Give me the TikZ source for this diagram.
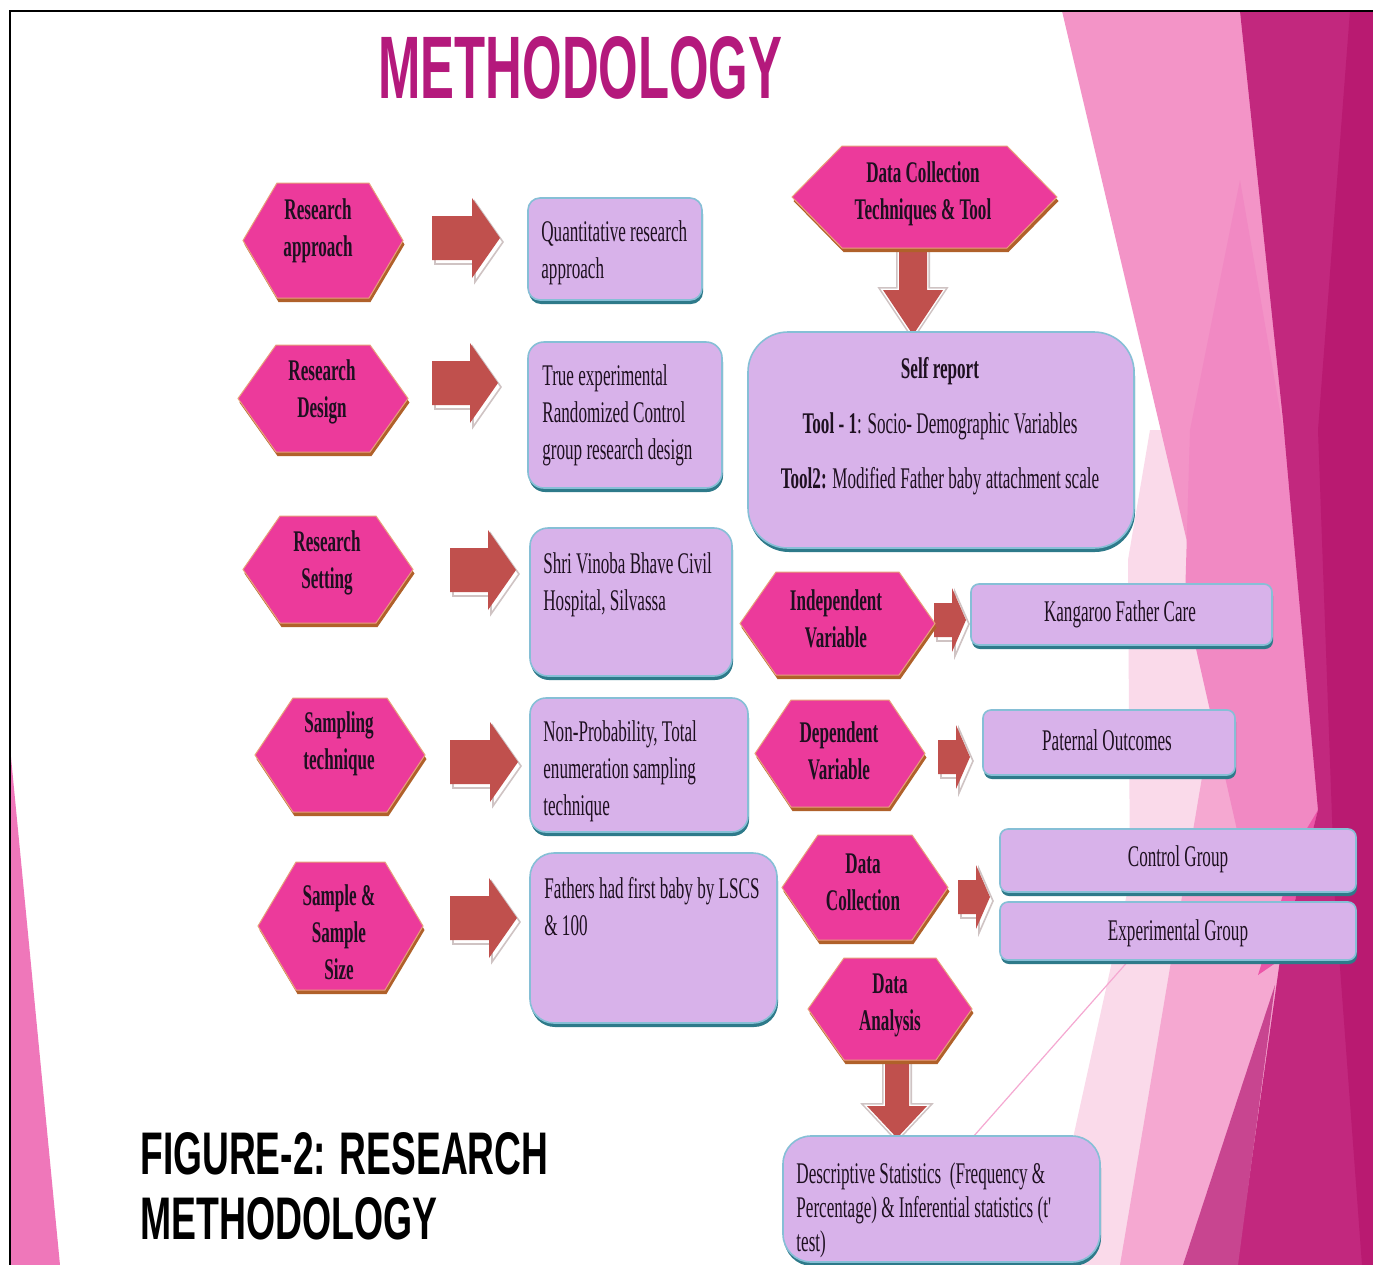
\documentclass[tikz,border=0pt]{standalone}
\usepackage{fontspec}
\usepackage{graphicx}
\usetikzlibrary{fit}
\newfontfamily\figfont{Liberation Serif}[FakeStretch=0.57]
\newfontfamily\headfont{Liberation Sans}
\definecolor{hexpink}{HTML}{EC3A9B}
\definecolor{hexedge}{HTML}{B0612A}
\definecolor{hexline}{HTML}{E8A07A}
\definecolor{boxfill}{HTML}{D8B2EA}
\definecolor{boxsh}{HTML}{2E7A8A}
\definecolor{boxline}{HTML}{86BFD6}
\definecolor{arrred}{HTML}{C0504D}
\definecolor{arrline}{HTML}{CFC3C3}
\definecolor{titlemag}{HTML}{B4197C}
\definecolor{txt}{HTML}{1E1020}
\definecolor{bgVL}{HTML}{FADAEA}
\definecolor{bgLP}{HTML}{F394C7}
\definecolor{bgMP}{HTML}{F189C3}
\definecolor{bgLB}{HTML}{F5A8D1}
\definecolor{bgHP}{HTML}{EC55A8}
\definecolor{bgDK}{HTML}{C2287E}
\definecolor{bgMD}{HTML}{C84590}
\definecolor{bgXD}{HTML}{B91A71}
\definecolor{bgLeft}{HTML}{EF77BA}
\tikzset{
  hextext/.style={align=center, inner sep=0pt, font=\figfont\bfseries\fontsize{15}{18.5}\selectfont, text=txt},
  boxtext/.style={align=left, inner sep=0pt, font=\figfont\fontsize{15}{18.5}\selectfont, text=txt},
  ctext/.style={align=center, inner sep=0pt, font=\figfont\fontsize{15}{18.5}\selectfont, text=txt},
  boxshade/.style={inner sep=0pt, fill=boxsh},
  boxmain/.style={inner sep=0pt, fill=boxfill, draw=boxline, line width=0.8pt},
}
% hexagon: name, xl, xr, yt, yb, slant, tx, ty, text
\newcommand{\hexa}[9]{%
  \fill[hexedge] ({#2+1.5},{(#4+#5)/2+4}) -- ({#2+#6+1.5},{#4+4}) -- ({#3-#6+1.5},{#4+4}) -- ({#3+1.5},{(#4+#5)/2+4}) -- ({#3-#6+1.5},{#5+4}) -- ({#2+#6+1.5},{#5+4}) -- cycle;
  \filldraw[fill=hexpink, draw=hexline, line width=0.5pt] (#2,{(#4+#5)/2}) -- ({#2+#6},#4) -- ({#3-#6},#4) -- (#3,{(#4+#5)/2}) -- ({#3-#6},#5) -- ({#2+#6},#5) -- cycle;
  \node[hextext] (#1) at (#7,#8) {#9};}
% box: name, xl, yt, xr, yb, radius
\newcommand{\pbox}[6]{%
  \node[boxshade, fit={(#2,#3)(#4,#5)}, rounded corners=#6, xshift=0.5pt, yshift=-2pt] (#1-s) {};
  \node[boxmain, fit={(#2,#3)(#4,#5)}, rounded corners=#6] (#1) {};}
% right arrow: x0, x1, yc, shaft half, head half, head length
\newcommand{\rarr}[6]{%
  \filldraw[fill=white, draw=arrline, line width=0.8pt, shift={(3,4)}] (#1,{#3-#4}) -- ({#2-#6},{#3-#4}) -- ({#2-#6},{#3-#5}) -- (#2,#3) -- ({#2-#6},{#3+#5}) -- ({#2-#6},{#3+#4}) -- (#1,{#3+#4}) -- cycle;
  \fill[arrred] (#1,{#3-#4}) -- ({#2-#6},{#3-#4}) -- ({#2-#6},{#3-#5}) -- (#2,#3) -- ({#2-#6},{#3+#5}) -- ({#2-#6},{#3+#4}) -- (#1,{#3+#4}) -- cycle;}
% down arrow: xc, y0, y1, shaft half, head half, head length
\newcommand{\darr}[6]{%
  \draw[draw=arrline, line width=3pt, line join=miter] ({#1-#4},#2) -- ({#1+#4},#2) -- ({#1+#4},{#3-#6}) -- ({#1+#5},{#3-#6}) -- (#1,#3) -- ({#1-#5},{#3-#6}) -- ({#1-#4},{#3-#6}) -- cycle;
  \draw[draw=white, line width=1.4pt, line join=miter] ({#1-#4},#2) -- ({#1+#4},#2) -- ({#1+#4},{#3-#6}) -- ({#1+#5},{#3-#6}) -- (#1,#3) -- ({#1-#5},{#3-#6}) -- ({#1-#4},{#3-#6}) -- cycle;
  \fill[arrred] ({#1-#4},#2) -- ({#1+#4},#2) -- ({#1+#4},{#3-#6}) -- ({#1+#5},{#3-#6}) -- (#1,#3) -- ({#1-#5},{#3-#6}) -- ({#1-#4},{#3-#6}) -- cycle;}
\begin{document}
\begin{tikzpicture}[x=0.5pt, y=-0.5pt]
\useasboundingbox (0,0) rectangle (1373,1265);
\fill[white] (0,0) rectangle (1373,1265);
% ---- background decoration ----
\fill[bgVL] (1150,430) -- (1373,430) -- (1373,1265) -- (1045,1265) -- (1130,880) -- (1128,560) -- cycle;
\fill[bgLP] (1062,11) -- (1373,11) -- (1373,900) -- (1262,860) -- cycle;
\fill[bgLB] (1120,1265) -- (1373,1265) -- (1373,850) -- (1300,850) -- (1215,700) -- cycle;
\fill[bgMP] (1240,180) -- (1285,440) -- (1320,830) -- (1237,830) -- (1185,600) -- (1190,430) -- cycle;
\fill[bgHP] (1318,810) -- (1280,960) -- (1258,975) -- (1300,840) -- cycle;
\fill[bgDK] (1240,11) -- (1373,11) -- (1373,1265) -- (1237,1265) -- (1280,960) -- (1318,810) -- (1283,420) -- cycle;
\fill[bgMD] (1183,1265) -- (1238,1265) -- (1275,985) -- cycle;
\fill[bgXD] (1350,11) -- (1373,11) -- (1373,1265) -- (1362,1265) -- (1335,900) -- (1318,430) -- cycle;
\draw[color=bgLB, line width=0.6pt] (973,1137) -- (1160,925);
\fill[bgLeft] (10,747) -- (60,1265) -- (10,1265) -- cycle;
% border
\draw[black, line width=1pt] (1373,11) -- (10,11) -- (10,1265);
% ---- titles ----
\node[anchor=south west, inner sep=0pt, text=titlemag] (title) at (378,100) {\resizebox{202pt}{31pt}{\headfont\bfseries METHODOLOGY}};
\node[anchor=south west, inner sep=0pt, text=black] (cap1) at (140,1175) {\resizebox{204pt}{21pt}{\headfont\bfseries FIGURE-2: RESEARCH}};
\node[anchor=south west, inner sep=0pt, text=black] (cap2) at (140,1240) {\resizebox{148.5pt}{21pt}{\headfont\bfseries METHODOLOGY}};
% ---- arrows ----
\rarr{432}{500}{238}{22}{40}{28}
\rarr{432}{498}{383}{22}{40}{28}
\rarr{450}{516}{570}{22}{40}{28}
\rarr{450}{518}{762}{22}{40}{28}
\rarr{450}{517}{918}{22}{40}{28}
\rarr{934}{966}{620}{17}{32}{14}
\rarr{938}{970}{757}{17}{32}{14}
\rarr{958}{990}{897}{17}{32}{14}
\darr{913}{247}{335}{14}{30}{45}
\darr{897}{1063}{1138}{12}{30}{32}
% ---- hexagons ----
\hexa{hA}{243}{403}{183}{298}{34}{318}{231}{Research\\approach}
\hexa{hB}{238}{408}{345}{452}{38}{322}{392}{Research\\Design}
\hexa{hC}{243}{413}{516}{623}{37}{327}{563}{Research\\Setting}
\hexa{hD}{255}{425}{698}{812}{38}{339}{744}{Sampling\\technique}
\hexa{hE}{258}{423}{862}{990}{38}{339}{932}{Sample \&\\Sample\\Size}
\hexa{hF}{792}{1057}{146}{248}{50}{923}{194}{Data Collection\\Techniques \& Tool}
\hexa{hG}{740}{935}{572}{675}{36}{836}{619}{Independent\\Variable}
\hexa{hH}{755}{925}{700}{807}{36}{839}{751}{Dependent\\Variable}
\hexa{hI}{782}{948}{835}{940}{36}{863}{882}{Data\\Collection}
\hexa{hJ}{808}{972}{958}{1060}{36}{890}{1005}{Data\\Analysis}
% ---- boxes ----
\pbox{bQ}{528}{198}{702}{300}{6pt}
\node[boxtext, anchor=north west] (tQ) at (541,220) {Quantitative research\\approach};
\pbox{bT}{528}{342}{722}{488}{8pt}
\node[boxtext, anchor=north west] (tT) at (542,364) {True experimental\\Randomized Control\\group research design};
\pbox{bS}{530}{528}{732}{676}{9pt}
\node[boxtext, anchor=north west] (tS) at (543,552) {Shri Vinoba Bhave Civil\\Hospital, Silvassa};
\pbox{bN}{530}{698}{748}{832}{8pt}
\node[boxtext, anchor=north west] (tN) at (543,720) {Non-Probability, Total\\enumeration sampling\\technique};
\pbox{bF}{530}{853}{777}{1023}{12pt}
\node[boxtext, anchor=north west] (tF) at (544,877) {Fathers had first baby by LSCS\\\& 100};
\pbox{bSR}{748}{332}{1134}{548}{20pt}
\node[ctext, anchor=north] (tSR) at (940,357) {\bfseries Self report\\[9pt]\textbf{Tool - 1}: Socio- Demographic Variables\\[9pt]\textbf{Tool2:} Modified Father baby attachment scale};
\pbox{bK}{971}{584}{1272}{645}{4pt}
\node[ctext] (tK) at (1120,614) {Kangaroo Father Care};
\pbox{bP}{983}{710}{1235}{775}{4pt}
\node[ctext] (tP) at (1107,740) {Paternal Outcomes};
\pbox{bC}{1000}{829}{1356}{892}{4pt}
\node[ctext] (tC) at (1178,859) {Control Group};
\pbox{bE}{1000}{902}{1356}{960}{4pt}
\node[ctext] (tE) at (1178,933) {Experimental Group};
\pbox{bD}{783}{1136}{1100}{1262}{14pt}
\node[boxtext, anchor=north west, font=\figfont\fontsize{15}{17}\selectfont] (tD) at (796,1162) {Descriptive Statistics~ (Frequency \&\\Percentage) \& Inferential statistics (t'\\test)};
\end{tikzpicture}
\end{document}
